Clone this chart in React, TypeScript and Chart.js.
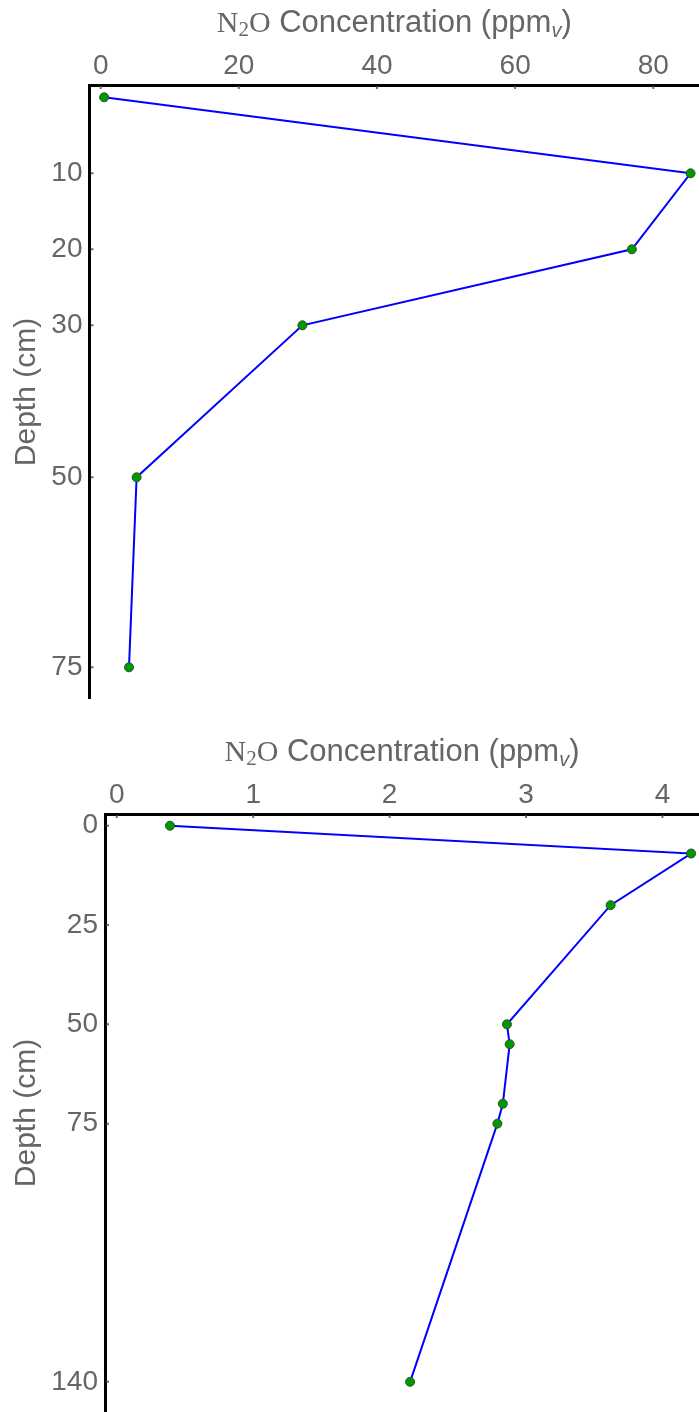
import React, { useEffect, useRef } from "react";
import { Chart, registerables } from "chart.js";

Chart.register(...registerables);

// ---- data (top profile) ----
const topDepths = [0, 10, 20, 30, 50, 75];
const topConc = [0.5, 85.4, 76.9, 29.2, 5.2, 4.1];
const topXTicks = [0, 20, 40, 60, 80];
const topYTicks = [10, 20, 30, 50, 75];

// ---- data (bottom profile) ----
const bottomDepths = [0, 7, 20, 50, 55, 70, 75, 140];
const bottomConc = [0.39, 4.21, 3.62, 2.86, 2.88, 2.83, 2.79, 2.15];
const bottomXTicks = [0, 1, 2, 3, 4];
const bottomYTicks = [0, 25, 50, 75, 140];

const yAxisTitle = "Depth (cm)";

const TEXT = "#666666";
const SANS = "'Liberation Sans', Arial, sans-serif";
const SERIF = "'Liberation Serif', 'Times New Roman', serif";

type Props = {
  depths: number[];
  conc: number[];
  xTicks: number[];
  yTicks: number[];
  xMin: number;
  xMax: number;
  yMin: number;
  yMax: number;
  xAxisHeight: number;
  yAxisWidth: number;
  width: number;
  height: number;
  top: number;
};

function ProfileChart(p: Props) {
  const ref = useRef<HTMLCanvasElement | null>(null);

  useEffect(() => {
    if (!ref.current) return;

    const titlePlugin = {
      id: "concTitle",
      afterDraw(chart: any) {
        const { ctx, chartArea } = chart;
        const baseline = chartArea.top - 53;
        const segs = [
          { t: "N", f: `30px ${SERIF}`, dy: 0 },
          { t: "2", f: `21px ${SERIF}`, dy: 4 },
          { t: "O", f: `30px ${SERIF}`, dy: 0 },
          { t: " Concentration (ppm", f: `31px ${SANS}`, dy: 0 },
          { t: "v", f: `italic 20px ${SANS}`, dy: 5 },
          { t: ")", f: `31px ${SANS}`, dy: 0 },
        ];
        ctx.save();
        ctx.fillStyle = TEXT;
        ctx.textBaseline = "alphabetic";
        ctx.textAlign = "left";
        let total = 0;
        const widths = segs.map((s) => {
          ctx.font = s.f;
          const w = ctx.measureText(s.t).width;
          total += w;
          return w;
        });
        let x = (chartArea.left + chartArea.right) / 2 - total / 2;
        segs.forEach((s, i) => {
          ctx.font = s.f;
          ctx.fillText(s.t, x, baseline + s.dy);
          x += widths[i];
        });
        ctx.restore();
      },
    };

    const tickPlugin = {
      id: "innerTicks",
      afterDraw(chart: any) {
        const { ctx, chartArea } = chart;
        const xs = chart.scales.x;
        const ys = chart.scales.y;
        ctx.save();
        ctx.strokeStyle = "#707070";
        ctx.lineWidth = 2;
        ctx.beginPath();
        xs.ticks.forEach((t: any) => {
          const px = xs.getPixelForValue(t.value);
          ctx.moveTo(px, chartArea.top + 1.5);
          ctx.lineTo(px, chartArea.top + 4);
        });
        ys.ticks.forEach((t: any) => {
          const py = ys.getPixelForValue(t.value);
          ctx.moveTo(chartArea.left + 1.5, py);
          ctx.lineTo(chartArea.left + 4, py);
        });
        ctx.stroke();
        ctx.restore();
      },
    };

    const chart = new Chart(ref.current, {
      type: "scatter",
      data: {
        datasets: [
          {
            data: p.depths.map((d, i) => ({ x: p.conc[i], y: d })),
            showLine: true,
            borderColor: "#0000ff",
            borderWidth: 2,
            pointBackgroundColor: "#009a00",
            pointBorderColor: "#2f4f2f",
            pointBorderWidth: 1,
            pointRadius: 4.5,
            pointHoverRadius: 4.5,
            tension: 0,
          },
        ],
      },
      options: {
        animation: false,
        responsive: false,
        events: [],
        layout: { padding: 0, autoPadding: false },
        plugins: {
          legend: { display: false },
          tooltip: { enabled: false },
          title: { display: false },
        },
        scales: {
          x: {
            type: "linear",
            position: "top",
            min: p.xMin,
            max: p.xMax,
            grid: { display: false, drawTicks: false, tickLength: 0 },
            border: { display: true, color: "#000000", width: 3 },
            afterBuildTicks: (s: any) => {
              s.ticks = p.xTicks.map((v) => ({ value: v }));
            },
            afterFit: (s: any) => {
              s.height = p.xAxisHeight;
              s.paddingLeft = 0;
              s.paddingRight = 0;
            },
            ticks: {
              color: TEXT,
              padding: 5,
              maxRotation: 0,
              autoSkip: false,
              font: { family: SANS, size: 28, lineHeight: 1 },
            },
          },
          y: {
            type: "linear",
            position: "left",
            reverse: true,
            min: p.yMin,
            max: p.yMax,
            grid: { display: false, drawTicks: false, tickLength: 0 },
            border: { display: true, color: "#000000", width: 3 },
            afterBuildTicks: (s: any) => {
              s.ticks = p.yTicks.map((v) => ({ value: v }));
            },
            afterFit: (s: any) => {
              s.width = p.yAxisWidth;
              s.paddingTop = 0;
              s.paddingBottom = 0;
            },
            ticks: {
              color: TEXT,
              padding: 7,
              autoSkip: false,
              font: { family: SANS, size: 28, lineHeight: 1 },
            },
            title: {
              display: true,
              text: yAxisTitle,
              color: TEXT,
              padding: { top: 9, bottom: 0 },
              font: { family: SANS, size: 30, lineHeight: 1.2 },
            },
          },
        },
      },
      plugins: [titlePlugin, tickPlugin],
    } as any);

    return () => chart.destroy();
  }, []);

  return (
    <canvas
      ref={ref}
      width={p.width}
      height={p.height}
      style={{
        position: "absolute",
        left: 0,
        top: p.top,
        width: p.width,
        height: p.height,
        display: "block",
      }}
    />
  );
}

export default function App() {
  return (
    <div
      style={{
        position: "absolute",
        left: 0,
        top: 0,
        width: 699,
        height: 1412,
        background: "#ffffff",
        overflow: "hidden",
      }}
    >
      <ProfileChart
        depths={topDepths}
        conc={topConc}
        xTicks={topXTicks}
        yTicks={topYTicks}
        xMin={-1.62}
        xMax={86.62}
        yMin={-1.62}
        yMax={79.17}
        xAxisHeight={85}
        yAxisWidth={89.5}
        width={699}
        height={699}
        top={0}
      />
      <ProfileChart
        depths={bottomDepths}
        conc={bottomConc}
        xTicks={bottomXTicks}
        yTicks={bottomYTicks}
        xMin={-0.0865}
        xMax={4.268}
        yMin={-2.95}
        yMax={147.6}
        xAxisHeight={115}
        yAxisWidth={105}
        width={699}
        height={713}
        top={699}
      />
    </div>
  );
}
